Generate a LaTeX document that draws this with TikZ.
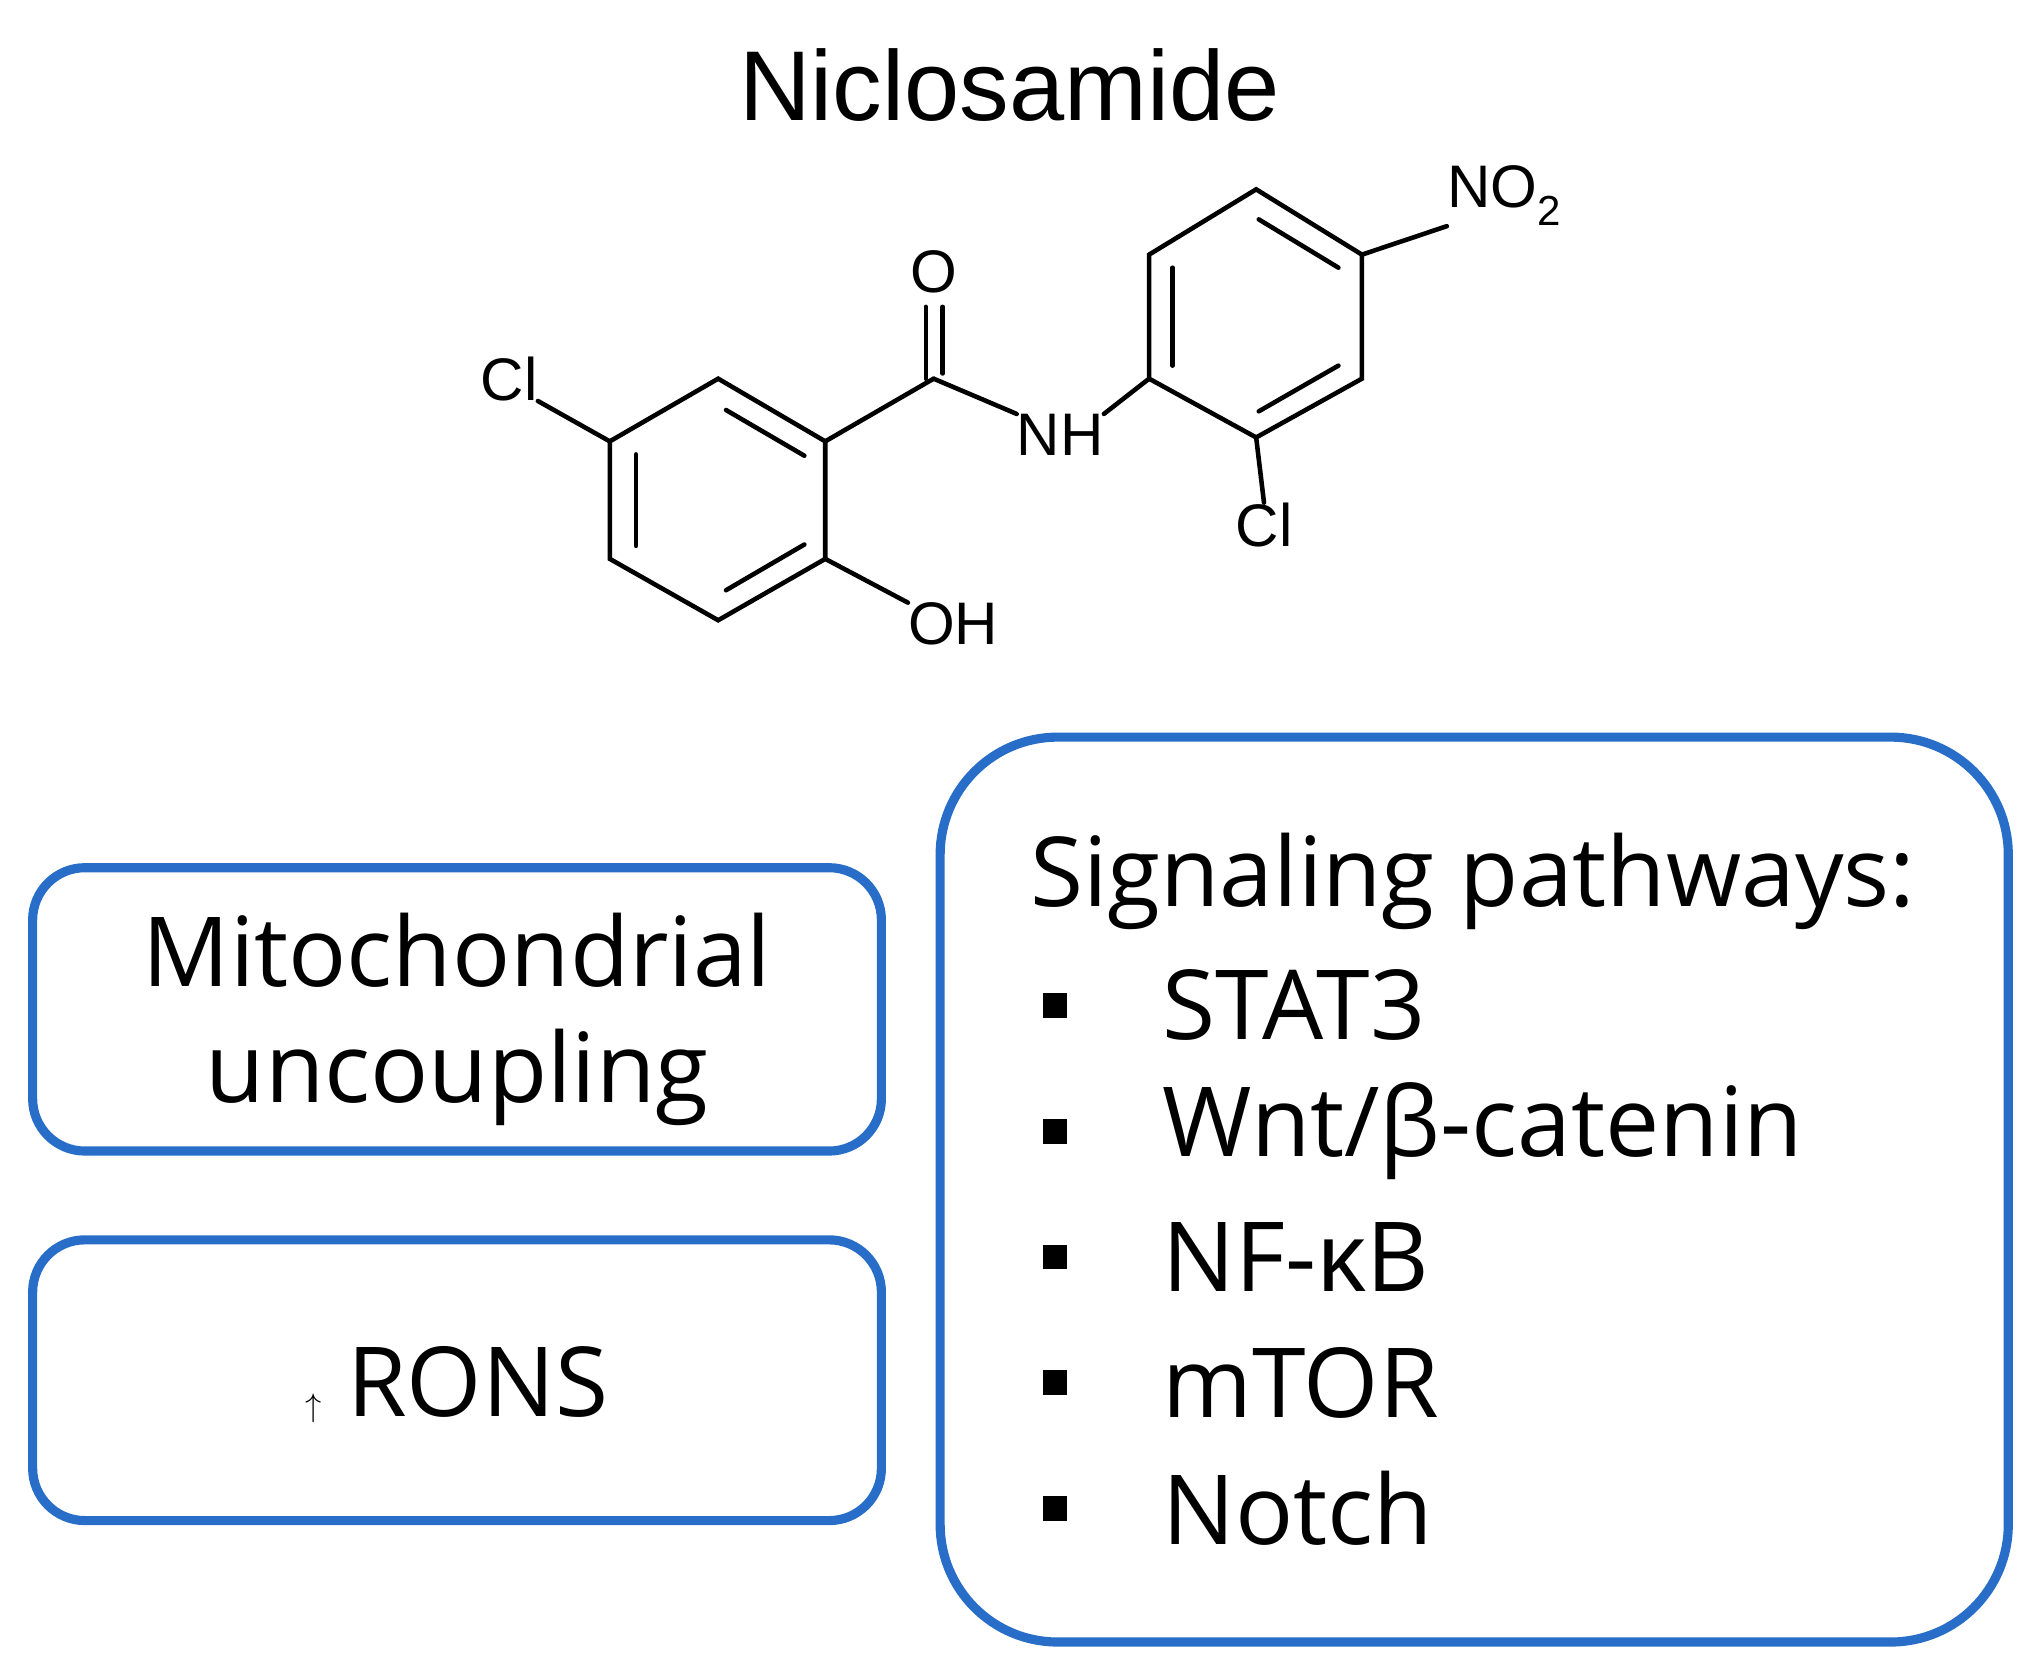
\documentclass[tikz,border=0pt]{standalone}
\usepackage{fontspec}
\setmainfont{Open Sans}
\newfontfamily\chem{Liberation Sans}
\definecolor{bx}{RGB}{40,110,200}
\begin{document}
\begin{tikzpicture}[x=1pt,y=-1pt,
  box/.style={draw=bx,line width=7pt},
  bond/.style={line width=3.5pt,line cap=round},
  atm/.style={font=\chem\fontsize{46}{50}\selectfont,inner sep=0pt},
  txt/.style={font=\fontsize{74}{80}\selectfont,inner sep=0pt},
  bul/.style={fill=black,minimum size=19pt,inner sep=0pt}]
\useasboundingbox (0,0) rectangle (1560,1283);
\node[font=\chem\fontsize{76}{80}\selectfont] (title) at (773,65) {Niclosamide};
% left ring
\coordinate (a1) at (550,290); \coordinate (a2) at (632,338); \coordinate (a3) at (632,428);
\coordinate (a4) at (550,475); \coordinate (a5) at (467,428); \coordinate (a6) at (467,338);
\draw[bond] (a1)--(a2)--(a3)--(a4)--(a5)--(a6)--cycle;
\draw[bond] (556,314)--(616,349);
\draw[bond] (487,348)--(487,418);
\draw[bond] (616,417)--(556,452);
% right ring
\coordinate (b1) at (880,290); \coordinate (b2) at (880,195); \coordinate (b3) at (962,145);
\coordinate (b4) at (1043,195); \coordinate (b5) at (1043,290); \coordinate (b6) at (962,335);
\draw[bond] (b1)--(b2)--(b3)--(b4)--(b5)--(b6)--cycle;
\draw[bond] (898,205)--(898,280);
\draw[bond] (964,168)--(1025,205);
\draw[bond] (1025,280)--(964,315);
% substituents
\node[atm] (cl1) at (390,290) {Cl};
\node[atm] (o) at (715,208) {O};
\node[atm] (nh) at (812,333) {NH};
\node[atm] (cl2) at (968,402) {Cl};
\node[atm] (oh) at (730,478) {OH};
\node[atm,anchor=west] (no2) at (1108,150) {NO\textsubscript{2}};
\coordinate (c) at (715,290);
\draw[bond] (a6)--(cl1.south east);
\draw[bond] (a2)--(c);
\draw[bond] (709,290)--(709,235);
\draw[bond] (722,286)--(722,235);
\draw[bond] (c)--(nh.north west);
\draw[bond] (nh.north east)--(b1);
\draw[bond] (b6)--(cl2.north);
\draw[bond] (a3)--(oh.north west);
\draw[bond] (b4)--(no2.south west);
% boxes
\node[box,rounded corners=40pt,minimum width=650pt,minimum height=217pt] (mito) at (350,773) {};
\node[txt] (m1) at (350,728) {Mitochondrial};
\node[txt] (m2) at (350,825) {uncoupling};
\node[box,rounded corners=40pt,minimum width=650pt,minimum height=215pt] (rons) at (350,1057) {};
\node[txt] (r) at (350,1060) {$\uparrow$ RONS};
\node[box,rounded corners=90pt,minimum width=818pt,minimum height=693pt] (sig) at (1129,911) {};
\node[txt] (sh) at (1128,675) {Signaling pathways:};
\foreach \t [count=\i] in {STAT3,Wnt/β-catenin,NF-κB,mTOR,Notch}{
  \node[bul] (b\i) at (808,{770+96.3*(\i-1)}) {};
  \node[txt,anchor=west] (t\i) at (890,{770+96.3*(\i-1)}) {\t};
}
\end{tikzpicture}
\end{document}
